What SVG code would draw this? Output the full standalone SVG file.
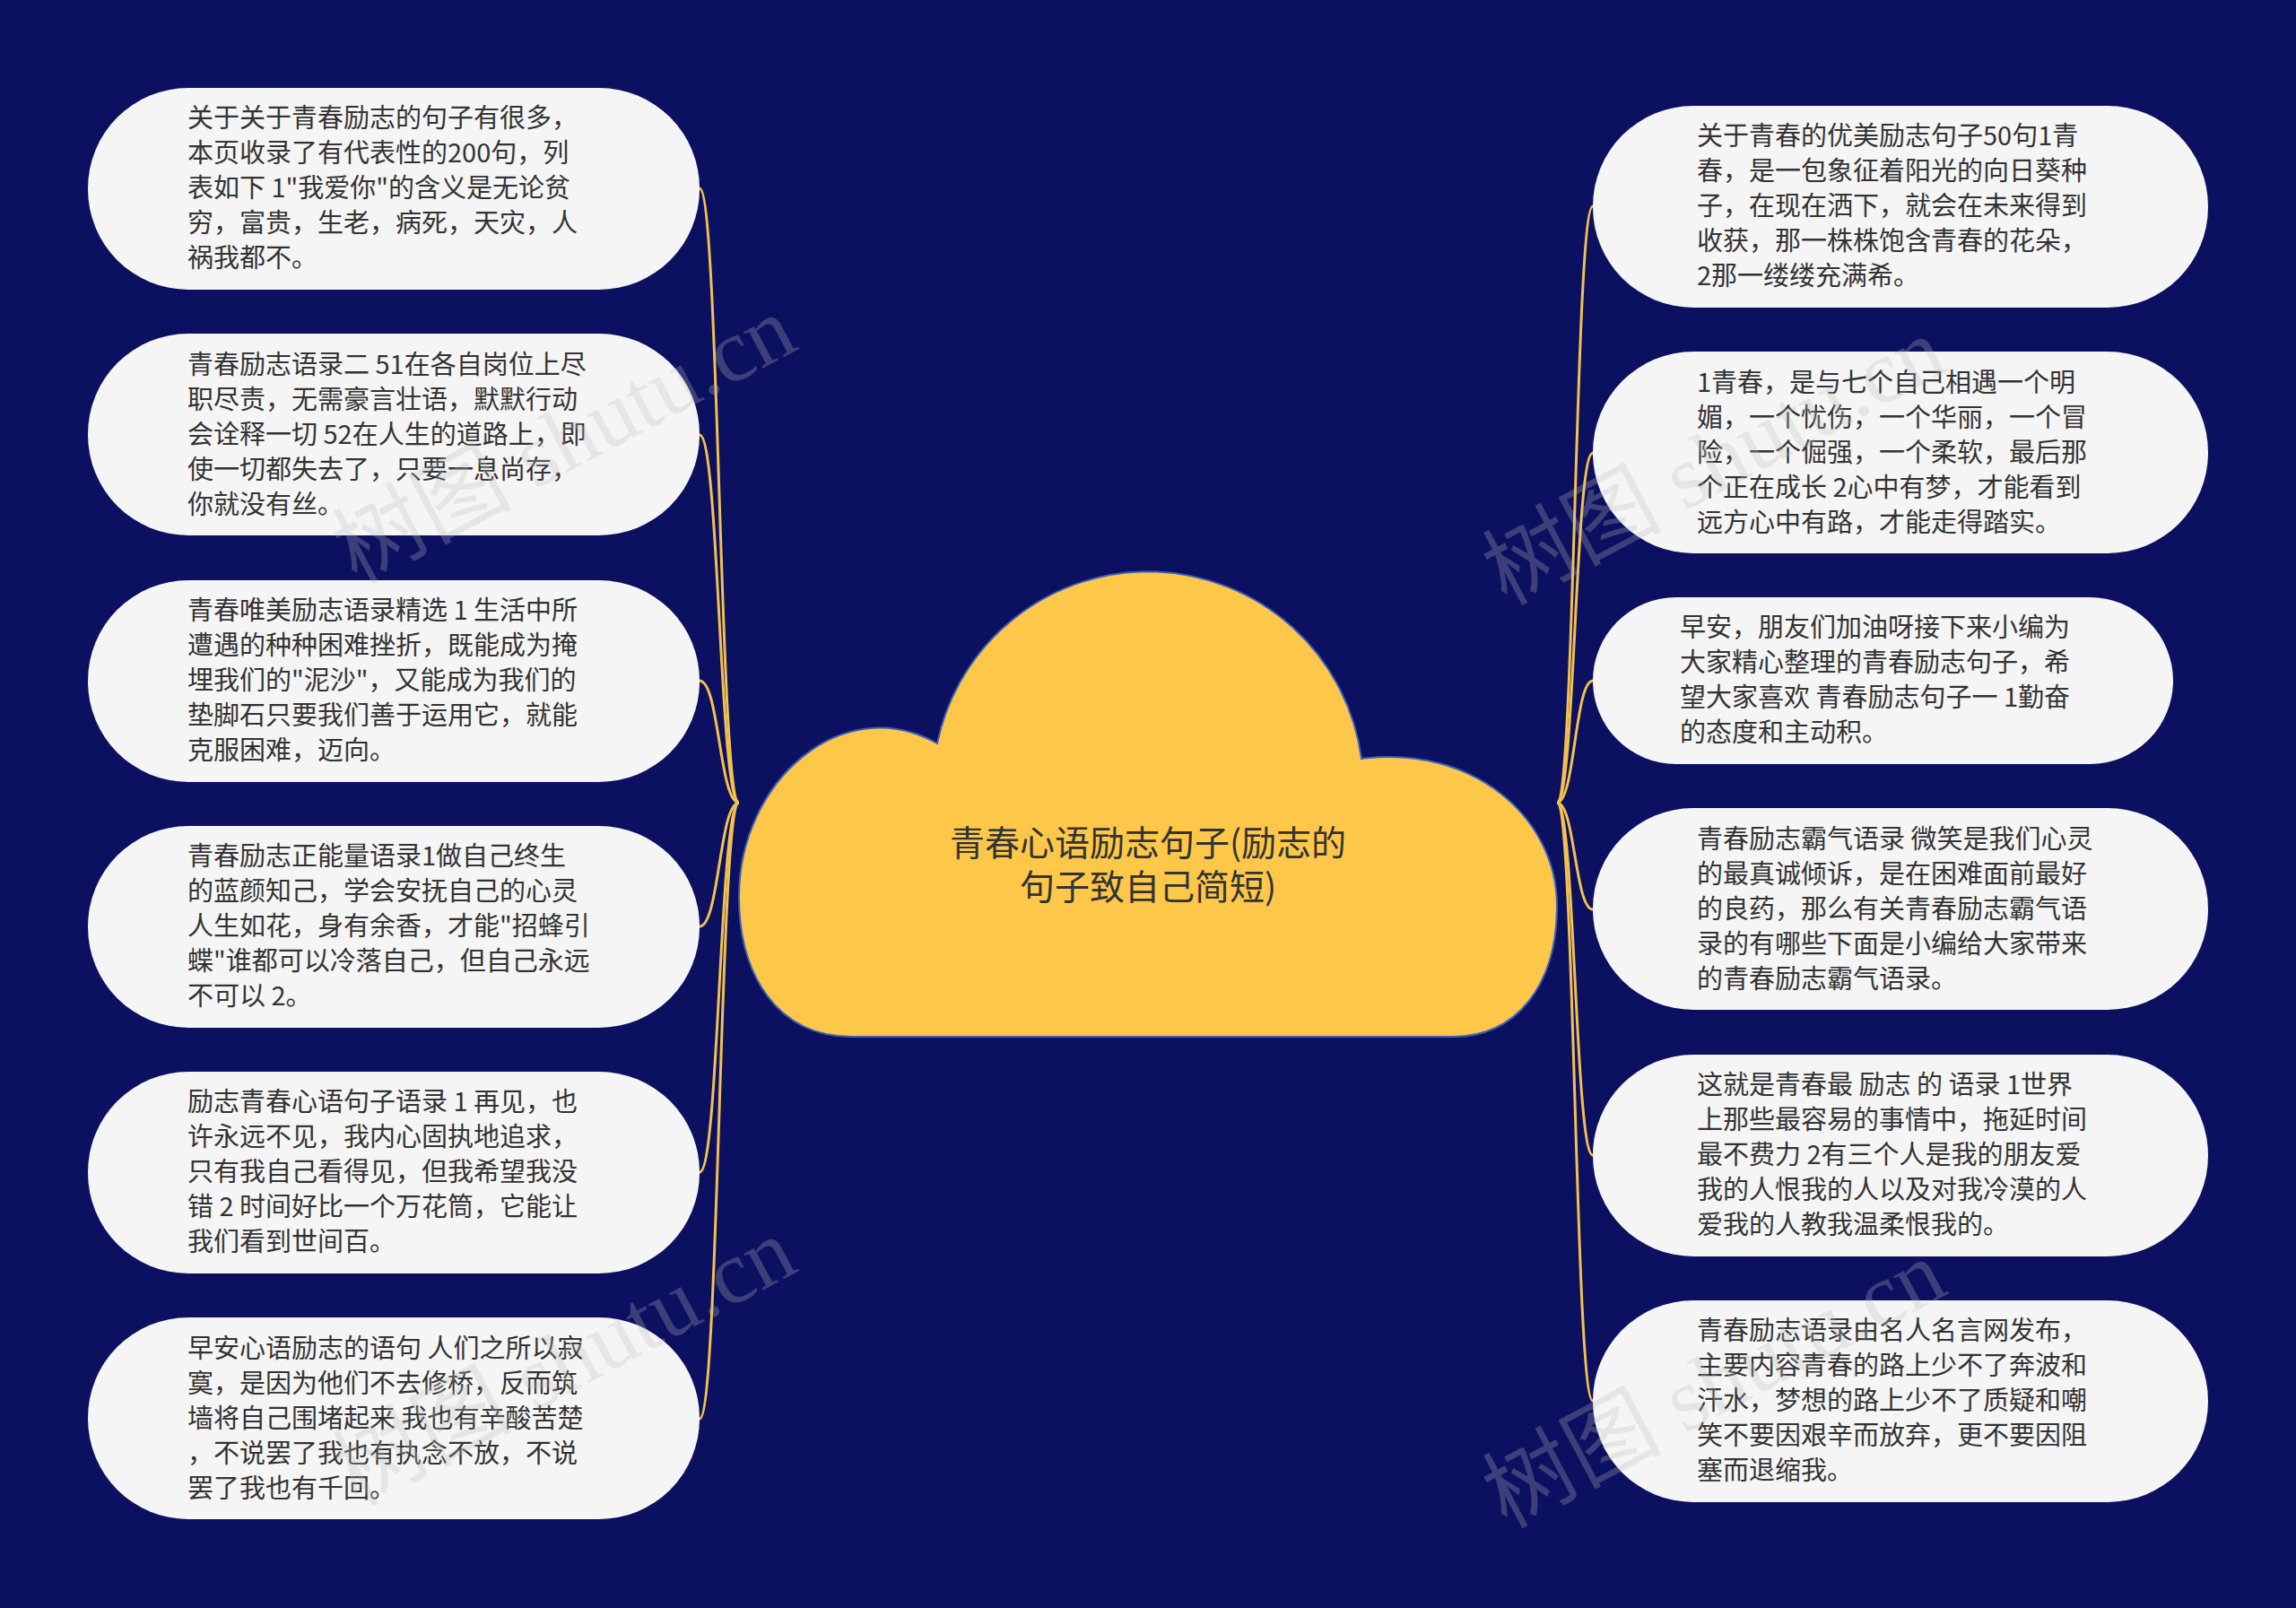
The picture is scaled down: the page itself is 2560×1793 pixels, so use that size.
<svg xmlns="http://www.w3.org/2000/svg" width="2560" height="1793" viewBox="0 0 2560 1793">
<style>
.bg{fill:#0c1060}
.node rect{fill:#f5f5f5}
.node text{font-family:"Noto Sans CJK SC","Noto Sans",sans-serif;font-size:29px;fill:#333333}
.conn path{fill:none;stroke:#f2c14e;stroke-width:3}
.cloud{fill:#fdc84a;stroke:#3f5fb8;stroke-width:2}
.title{font-family:"Noto Sans CJK SC","Noto Sans",sans-serif;font-size:39px;fill:#333333;text-anchor:middle}
.wm{font-family:"Liberation Serif","Noto Sans CJK SC",serif;font-size:100px;fill:#bbbbbb;fill-opacity:0.28}
</style>
<rect class="bg" x="0" y="0" width="2560" height="1793"/>
<g id="connectors" class="conn">
<path d="M824,895 C802,895 802,210 780,210"/>
<path d="M824,895 C802,895 802,485 780,485"/>
<path d="M824,895 C802,895 802,759 780,759"/>
<path d="M824,895 C802,895 802,1033 780,1033"/>
<path d="M824,895 C802,895 802,1307 780,1307"/>
<path d="M824,895 C802,895 802,1582 780,1582"/>
<path d="M1736,895 C1756,895 1756,230 1776,230"/>
<path d="M1736,895 C1756,895 1756,505 1776,505"/>
<path d="M1736,895 C1756,895 1756,759 1776,759"/>
<path d="M1736,895 C1756,895 1756,1014 1776,1014"/>
<path d="M1736,895 C1756,895 1756,1288 1776,1288"/>
<path d="M1736,895 C1756,895 1756,1562 1776,1562"/>
</g>
<g id="center">
<path class="cloud" d="M950,1156 C865,1156 824,1085 824,1000 C824,870 940,770 1045,829 A240,240 0 0 1 1518,846 C1640,830 1736,910 1736,1010 C1736,1100 1690,1156 1620,1156 Z"/>
<text class="title" x="1280" y="954">青春心语励志句子(励志的</text>
<text class="title" x="1280" y="1003">句子致自己简短)</text>
</g>
<g id="n1" class="node">
<rect x="98" y="98" width="682" height="225" rx="112"/>
<text x="209" y="142">关于关于青春励志的句子有很多，</text>
<text x="209" y="181">本页收录了有代表性的200句，列</text>
<text x="209" y="220">表如下 1"我爱你"的含义是无论贫</text>
<text x="209" y="259">穷，富贵，生老，病死，天灾，人</text>
<text x="209" y="298">祸我都不。</text>
</g>
<g id="n2" class="node">
<rect x="98" y="372" width="682" height="225" rx="112"/>
<text x="209" y="417">青春励志语录二 51在各自岗位上尽</text>
<text x="209" y="456">职尽责，无需豪言壮语，默默行动</text>
<text x="209" y="495">会诠释一切 52在人生的道路上，即</text>
<text x="209" y="534">使一切都失去了，只要一息尚存，</text>
<text x="209" y="573">你就没有丝。</text>
</g>
<g id="n3" class="node">
<rect x="98" y="647" width="682" height="225" rx="112"/>
<text x="209" y="691">青春唯美励志语录精选 1 生活中所</text>
<text x="209" y="730">遭遇的种种困难挫折，既能成为掩</text>
<text x="209" y="769">埋我们的"泥沙"，又能成为我们的</text>
<text x="209" y="808">垫脚石只要我们善于运用它，就能</text>
<text x="209" y="847">克服困难，迈向。</text>
</g>
<g id="n4" class="node">
<rect x="98" y="921" width="682" height="225" rx="112"/>
<text x="209" y="965">青春励志正能量语录1做自己终生</text>
<text x="209" y="1004">的蓝颜知己，学会安抚自己的心灵</text>
<text x="209" y="1043">人生如花，身有余香，才能"招蜂引</text>
<text x="209" y="1082">蝶"谁都可以冷落自己，但自己永远</text>
<text x="209" y="1121">不可以 2。</text>
</g>
<g id="n5" class="node">
<rect x="98" y="1195" width="682" height="225" rx="112"/>
<text x="209" y="1239">励志青春心语句子语录 1 再见，也</text>
<text x="209" y="1278">许永远不见，我内心固执地追求，</text>
<text x="209" y="1317">只有我自己看得见，但我希望我没</text>
<text x="209" y="1356">错 2 时间好比一个万花筒，它能让</text>
<text x="209" y="1395">我们看到世间百。</text>
</g>
<g id="n6" class="node">
<rect x="98" y="1469" width="682" height="225" rx="112"/>
<text x="209" y="1514">早安心语励志的语句 人们之所以寂</text>
<text x="209" y="1553">寞，是因为他们不去修桥，反而筑</text>
<text x="209" y="1592">墙将自己围堵起来 我也有辛酸苦楚</text>
<text x="209" y="1631">，不说罢了我也有执念不放，不说</text>
<text x="209" y="1670">罢了我也有千回。</text>
</g>
<g id="r1" class="node">
<rect x="1776" y="118" width="686" height="225" rx="112"/>
<text x="1892" y="162">关于青春的优美励志句子50句1青</text>
<text x="1892" y="201">春，是一包象征着阳光的向日葵种</text>
<text x="1892" y="240">子，在现在洒下，就会在未来得到</text>
<text x="1892" y="279">收获，那一株株饱含青春的花朵，</text>
<text x="1892" y="318">2那一缕缕充满希。</text>
</g>
<g id="r2" class="node">
<rect x="1776" y="392" width="686" height="225" rx="112"/>
<text x="1892" y="437">1青春，是与七个自己相遇一个明</text>
<text x="1892" y="476">媚，一个忧伤，一个华丽，一个冒</text>
<text x="1892" y="515">险，一个倔强，一个柔软，最后那</text>
<text x="1892" y="554">个正在成长 2心中有梦，才能看到</text>
<text x="1892" y="593">远方心中有路，才能走得踏实。</text>
</g>
<g id="r3" class="node">
<rect x="1776" y="666" width="647" height="186" rx="93"/>
<text x="1873" y="710">早安，朋友们加油呀接下来小编为</text>
<text x="1873" y="749">大家精心整理的青春励志句子，希</text>
<text x="1873" y="788">望大家喜欢 青春励志句子一 1勤奋</text>
<text x="1873" y="827">的态度和主动积。</text>
</g>
<g id="r4" class="node">
<rect x="1776" y="901" width="686" height="225" rx="112"/>
<text x="1892" y="946">青春励志霸气语录 微笑是我们心灵</text>
<text x="1892" y="985">的最真诚倾诉，是在困难面前最好</text>
<text x="1892" y="1024">的良药，那么有关青春励志霸气语</text>
<text x="1892" y="1063">录的有哪些下面是小编给大家带来</text>
<text x="1892" y="1102">的青春励志霸气语录。</text>
</g>
<g id="r5" class="node">
<rect x="1776" y="1176" width="686" height="225" rx="112"/>
<text x="1892" y="1220">这就是青春最 励志 的 语录  1世界</text>
<text x="1892" y="1259">上那些最容易的事情中，拖延时间</text>
<text x="1892" y="1298">最不费力 2有三个人是我的朋友爱</text>
<text x="1892" y="1337">我的人恨我的人以及对我冷漠的人</text>
<text x="1892" y="1376">爱我的人教我温柔恨我的。</text>
</g>
<g id="r6" class="node">
<rect x="1776" y="1450" width="686" height="225" rx="112"/>
<text x="1892" y="1494">青春励志语录由名人名言网发布，</text>
<text x="1892" y="1533">主要内容青春的路上少不了奔波和</text>
<text x="1892" y="1572">汗水，梦想的路上少不了质疑和嘲</text>
<text x="1892" y="1611">笑不要因艰辛而放弃，更不要因阻</text>
<text x="1892" y="1650">塞而退缩我。</text>
</g>
<g id="watermarks">
<text class="wm" transform="translate(645,520) rotate(-28)" text-anchor="middle">树图 shutu.cn</text>
<text class="wm" transform="translate(645,1548) rotate(-28)" text-anchor="middle">树图 shutu.cn</text>
<text class="wm" transform="translate(1927,544) rotate(-28)" text-anchor="middle">树图 shutu.cn</text>
<text class="wm" transform="translate(1927,1573) rotate(-28)" text-anchor="middle">树图 shutu.cn</text>
</g>
</svg>
